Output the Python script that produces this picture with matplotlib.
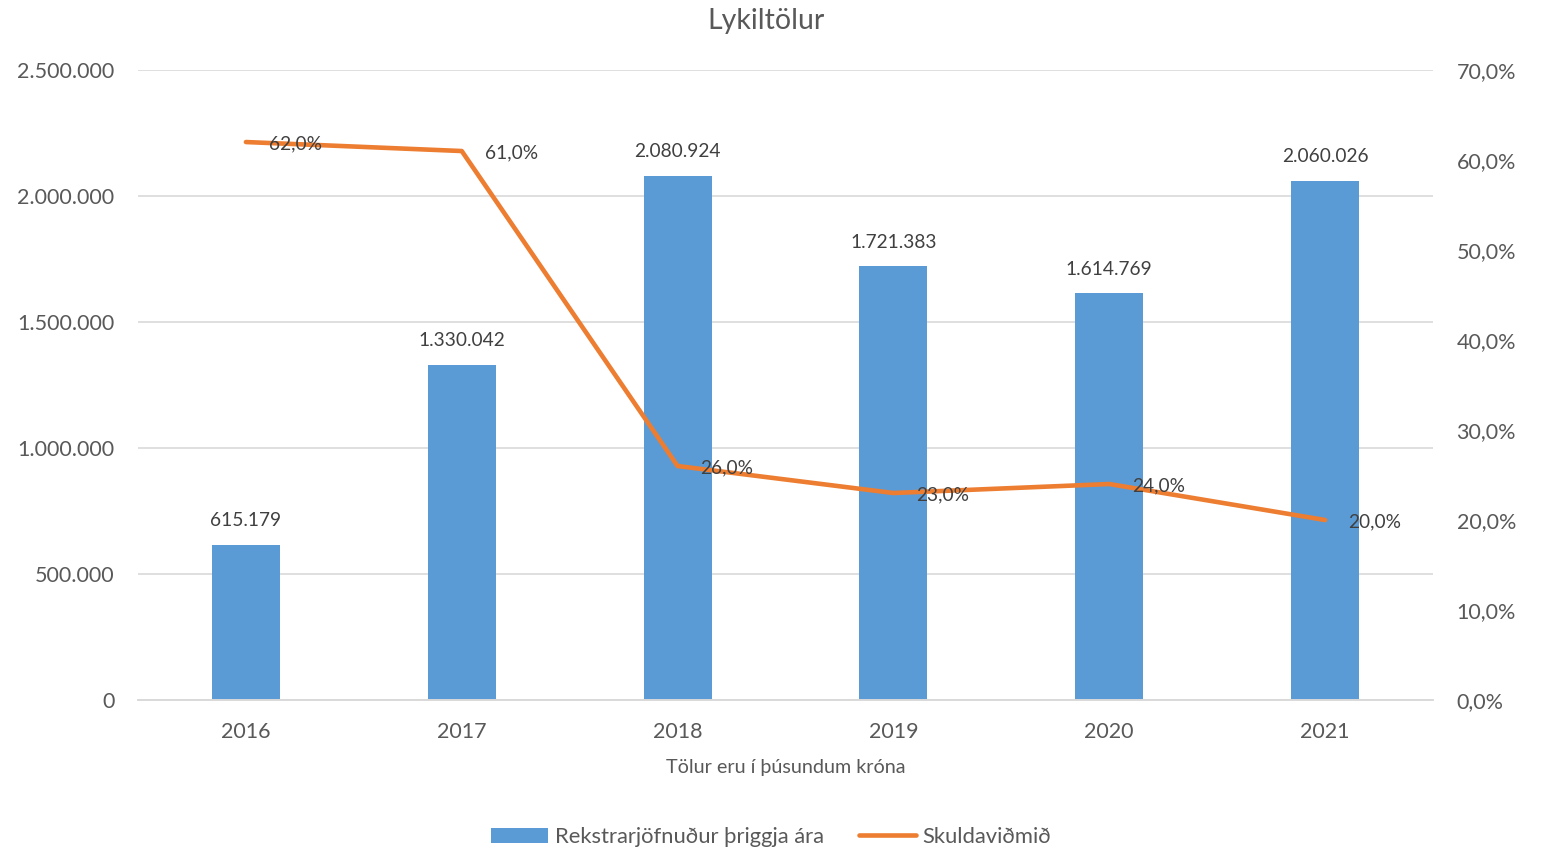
import numpy as np
import matplotlib.pyplot as plt
from matplotlib.ticker import FuncFormatter

plt.rcParams['font.family'] = ['Lato', 'DejaVu Sans']

years = ['2016', '2017', '2018', '2019', '2020', '2021']
rekstur = [615179, 1330042, 2080924, 1721383, 1614769, 2060026]
skuldir = [62.0, 61.0, 26.0, 23.0, 24.0, 20.0]

bar_color = '#5B9BD5'
line_color = '#ED7D31'
text_color = '#595959'
grid_color = '#D9D9D9'


def thous(v):
    return '{:,.0f}'.format(v).replace(',', '.')


def pct(v):
    return '{:.1f}%'.format(v).replace('.', ',')


fig = plt.figure(figsize=(15.42, 8.49), dpi=100)
ax = fig.add_axes([0.0895, 0.1755, 0.8398, 0.742])
ax2 = ax.twinx()

x = np.arange(len(years))
bars = ax.bar(x, rekstur, width=0.315, color=bar_color, zorder=2,
              label='Rekstrarjöfnuður þriggja ára')
ax.set_xlim(-0.5, len(years) - 0.5)
ax.set_ylim(0, 2500000)
ax.set_yticks(np.arange(0, 2500001, 500000))
ax.yaxis.set_major_formatter(FuncFormatter(lambda v, p: thous(v)))
ax.grid(axis='y', color=grid_color, linewidth=1.2, zorder=0)
ax.set_xticks(x)
ax.set_xticklabels(years)
ax.tick_params(axis='both', length=0, labelsize=15.5, colors=text_color)
ax.tick_params(axis='x', pad=16)
ax.tick_params(axis='y', pad=17)
ax.set_xlabel('Tölur eru í þúsundum króna', fontsize=14.2, color=text_color, labelpad=12)

for xi, v in zip(x, rekstur):
    ax.annotate(thous(v), (xi, v), xytext=(0, 24), textcoords='offset pixels',
                ha='center', va='center', fontsize=13.8, color='#404040')

line, = ax2.plot(x, skuldir, color=line_color, linewidth=3.3, zorder=3,
                 solid_capstyle='round', label='Skuldaviðmið')
ax2.set_ylim(0, 70)
ax2.set_yticks(np.arange(0, 71, 10))
ax2.yaxis.set_major_formatter(FuncFormatter(lambda v, p: pct(v)))
ax2.tick_params(axis='y', length=0, labelsize=15.5, colors=text_color, pad=17)

for xi, v in zip(x, skuldir):
    ax2.annotate(pct(v), (xi, v), xytext=(23, -2), textcoords='offset pixels',
                 ha='left', va='center', fontsize=13.8, color='#404040')

for a in (ax, ax2):
    for s in ['top', 'left', 'right']:
        a.spines[s].set_visible(False)
    a.spines['bottom'].set_color(grid_color)
    a.spines['bottom'].set_linewidth(1.2)

fig.suptitle('Lykiltölur', fontsize=20.5, color=text_color, x=0.497, y=0.991, va='top')

fig.legend(handles=[bars, line], loc='lower center', ncol=2, frameon=False,
           bbox_to_anchor=(0.5, -0.021), fontsize=15.8, labelcolor=text_color,
           handlelength=2.6, handleheight=0.7, handletextpad=0.3, columnspacing=1.6)

plt.savefig('out.png', dpi=100)
